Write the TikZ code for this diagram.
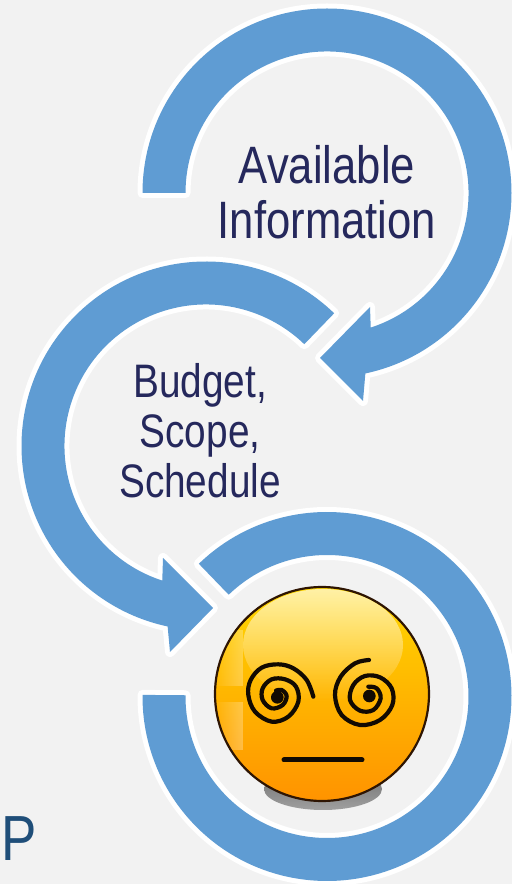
\documentclass[tikz,border=0pt]{standalone}
\usepackage{fontspec}
\setmainfont{Liberation Sans}
\usetikzlibrary{calc,fadings}
\definecolor{bgc}{HTML}{F2F2F2}
\definecolor{ringc}{HTML}{5F9CD3}
\definecolor{txtc}{HTML}{25285C}
\definecolor{pc}{HTML}{1F4E79}
\definecolor{inkc}{HTML}{120A02}
\definecolor{rimc}{HTML}{2E1503}
\definecolor{facetop}{HTML}{FFD800}
\definecolor{facemid}{HTML}{FFC200}
\definecolor{facebot}{HTML}{FF9300}
\tikzset{
  ring/.style={fill=ringc,preaction={draw=white,line width=10pt,line join=round}},
  biglabel/.style={text=txtc,align=center,inner sep=0pt,xscale=.83,transform shape,font=\fontsize{52.6}{55}\selectfont},
  midlabel/.style={text=txtc,align=center,inner sep=0pt,xscale=.825,transform shape,font=\fontsize{47}{50}\selectfont},
  swirl/.style={draw=inkc,line width=4.2pt,line cap=round,line join=round},
}
\begin{document}
\begin{tikzpicture}[x=1pt,y=1pt]
\useasboundingbox (0,0) rectangle (512,884);
\clip (0,0) rectangle (512,884);
\fill[bgc] (0,0) rectangle (512,884);
\coordinate (c1) at (327,691);
\coordinate (c2) at (206,438);
\coordinate (c3) at (327,187.5);
\coordinate (fc) at (322,190);
% top arrow
\path[ring] ($(c1)+(180:184.5)$) arc[start angle=180,end angle=-78,radius=184.5]
  -- (363,483) -- (320,526) -- (370,577) -- ($(c1)+(-72:141.5)$)
  arc[start angle=-72,end angle=180,radius=141.5] -- cycle;
% middle arrow
\path[ring] ($(c2)+(46:184.5)$) arc[start angle=46,end angle=258,radius=184.5]
  -- (170,232) -- (213,276) -- (163,326) -- ($(c2)+(252:141.5)$)
  arc[start angle=252,end angle=46,radius=141.5] -- cycle;
% bottom ring
\path[ring] ($(c3)+(134:184.5)$) arc[start angle=134,end angle=-180.5,radius=184.5]
  -- ($(c3)+(179.5:141.5)$) arc[start angle=-180.5,end angle=134,radius=141.5] -- cycle;
% labels
\node[biglabel] (avail) at (327,691.5) {Available\\Information};
\node[midlabel] (bss) at (200,453.5) {Budget,\\Scope,\\Schedule};
\node[anchor=base west,inner sep=0pt,text=pc,xscale=.83,transform shape,font=\fontsize{63.8}{64}\selectfont] (pee) at (1,23.3) {P};
% face shadow
\shade[top color=gray!85!black,bottom color=gray!75] (323,95) ellipse[x radius=59,y radius=21];
% face
\begin{scope}
  \clip (fc) circle[radius=107];
  \shade[top color=facetop,middle color=facemid,bottom color=facebot] (fc) circle[radius=107];
  \fill[white,opacity=.65,path fading=south] (323,239) ellipse[x radius=80,y radius=56];
  \fill[white,opacity=.28,path fading=west] (214,198) rectangle (243,254);
  \fill[white,opacity=.28,path fading=west] (214,134) rectangle (243,182);
\end{scope}
\draw[rimc,line width=2.2pt] (fc) circle[radius=107];
% eyes and mouth
\begin{scope}[shift={(190pt,314pt)},x=.33333pt,y=-.33333pt]
  \draw[swirl] plot[smooth,tension=.6] coordinates {(370,380) (350,330) (310,295) (265,283) (215,293) (182,330) (175,375) (195,425) (245,455) (295,440) (325,395) (318,350) (285,328) (245,328) (218,355) (218,390) (245,415) (278,405) (290,378) (275,360) (258,362)};
  \fill[inkc] (262,382) circle[radius=19];
  \draw[swirl] plot[smooth,tension=.6] coordinates {(537,270) (495,280) (452,320) (435,375) (455,435) (510,465) (570,450) (607,405) (605,355) (570,322) (525,318) (490,345) (480,390) (510,422) (550,420) (572,385) (560,355) (535,350)};
  \fill[inkc] (538,378) circle[radius=19];
  \draw[swirl,line width=5pt] (282,570) -- (516,570);
\end{scope}
\end{tikzpicture}
\end{document}
